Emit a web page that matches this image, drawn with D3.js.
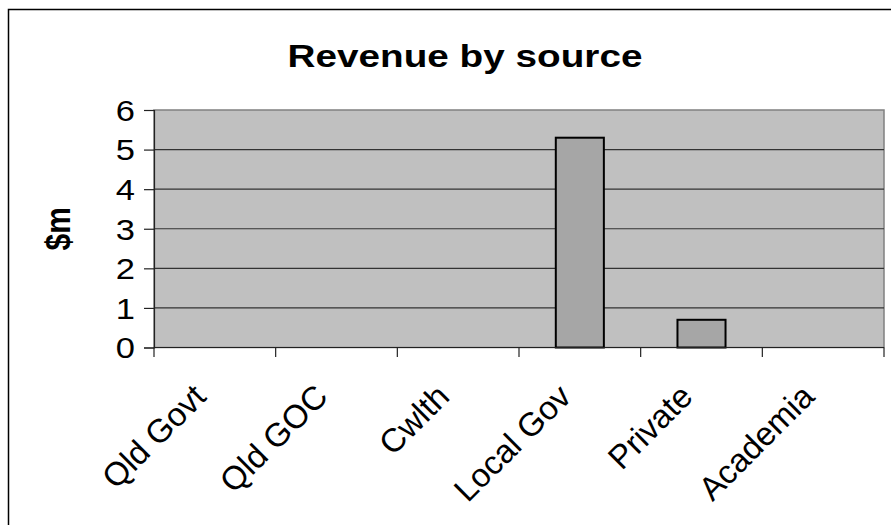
<!DOCTYPE html>
<html>
<head>
<meta charset="utf-8">
<script src="https://cdn.jsdelivr.net/npm/d3@7/dist/d3.min.js"></script>
<style>
  html, body { margin: 0; padding: 0; background: #fff; }
  svg { display: block; }
  text { font-family: "Liberation Sans", Arial, sans-serif; fill: #000; }
</style>
</head>
<body>
<svg id="chart" width="891" height="525"></svg>
<script>
const categories = ["Qld Govt", "Qld GOC", "Cwlth", "Local Gov", "Private", "Academia"];
const values = [0, 0, 0, 5.3, 0.7, 0];
const yTicks = [0, 1, 2, 3, 4, 5, 6];
const title = "Revenue by source";
const yLabel = "$m";

const plot = { left: 154, top: 110, right: 884, bottom: 347.5 };

const svg = d3.select("#chart");

// outer chart border (right/bottom fall outside the picture)
svg.append("rect")
  .attr("x", 8.5).attr("y", 9.5)
  .attr("width", 900).attr("height", 540)
  .attr("fill", "#fff").attr("stroke", "#000").attr("stroke-width", 1.5);

const x = d3.scaleBand().domain(categories).range([plot.left, plot.right]).padding(0);
const y = d3.scaleLinear().domain([0, 6]).range([plot.bottom, plot.top]);

// plot area
svg.append("rect")
  .attr("x", plot.left).attr("y", plot.top)
  .attr("width", plot.right - plot.left).attr("height", plot.bottom - plot.top)
  .attr("fill", "#C0C0C0").attr("stroke", "#808080").attr("stroke-width", 1.5);

// gridlines
svg.append("g").selectAll("line")
  .data(yTicks.filter(d => d > 0 && d < 6))
  .join("line")
  .attr("x1", plot.left).attr("x2", plot.right)
  .attr("y1", d => y(d)).attr("y2", d => y(d))
  .attr("stroke", "#333").attr("stroke-width", 1.2);

// bars
const barFrac = 0.395;
svg.append("g").selectAll("rect")
  .data(categories.map((c, i) => ({ c, v: values[i] })).filter(d => d.v > 0))
  .join("rect")
  .attr("x", d => x(d.c) + x.bandwidth() * (1 - barFrac) / 2)
  .attr("width", x.bandwidth() * barFrac)
  .attr("y", d => y(d.v))
  .attr("height", d => y(0) - y(d.v))
  .attr("fill", "#A6A6A6").attr("stroke", "#000").attr("stroke-width", 2);

// y axis (ticks/domain from d3, labels drawn with a slight horizontal stretch)
const yAxis = d3.axisLeft(y).tickValues(yTicks).tickSize(10).tickFormat("");
const gy = svg.append("g").attr("transform", `translate(${plot.left},0)`).call(yAxis);
gy.select(".domain").attr("stroke", "#222").attr("stroke-width", 1.2);
gy.selectAll(".tick line").attr("stroke", "#222").attr("stroke-width", 1.2);
svg.append("g").selectAll("text").data(yTicks).join("text")
  .attr("transform", d => `translate(135,${y(d)}) scale(1.15,1)`)
  .attr("text-anchor", "end").attr("dy", "0.36em")
  .style("font-size", "30px")
  .text(d => d3.format("d")(d));

// x axis with ticks at band boundaries
const boundaries = categories.map(c => x(c)).concat([plot.right]);
const gx = svg.append("g");
gx.append("line")
  .attr("x1", plot.left).attr("x2", plot.right)
  .attr("y1", plot.bottom).attr("y2", plot.bottom)
  .attr("stroke", "#222").attr("stroke-width", 1.2);
gx.selectAll("line.t").data(boundaries).join("line").attr("class", "t")
  .attr("x1", d => d).attr("x2", d => d)
  .attr("y1", plot.bottom).attr("y2", plot.bottom + 9.5)
  .attr("stroke", "#222").attr("stroke-width", 1.2);
gx.selectAll("text").data(categories).join("text")
  .attr("transform", d => `translate(${x(d) + x.bandwidth() / 2 - 7},${plot.bottom + 51}) rotate(-45)`)
  .attr("text-anchor", "end")
  .style("font-size", "33px")
  .text(d => d);

// title
svg.append("text")
  .attr("transform", "translate(465,67) scale(1.21,1)")
  .attr("text-anchor", "middle")
  .style("font-size", "32px").style("font-weight", "bold")
  .text(title);

// y label
svg.append("text")
  .attr("transform", `translate(70,${(plot.top + plot.bottom) / 2}) rotate(-90) scale(1,1.15)`)
  .attr("text-anchor", "middle")
  .style("font-size", "30px").style("font-weight", "bold")
  .text(yLabel);
</script>
</body>
</html>
